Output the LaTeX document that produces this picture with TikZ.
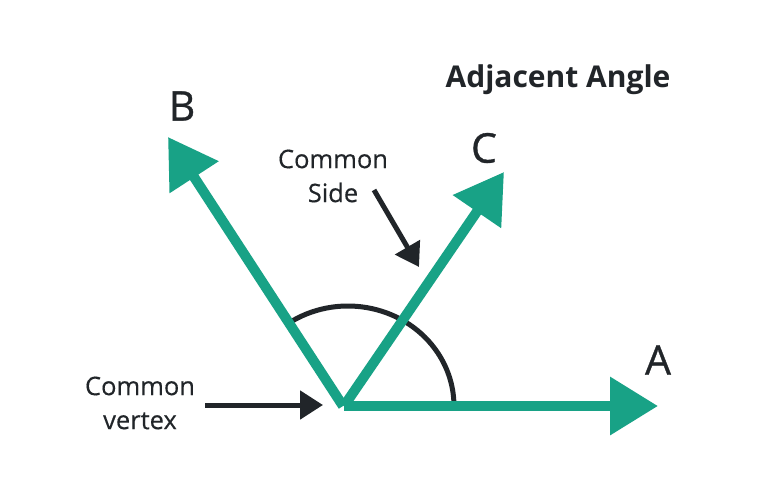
\documentclass[tikz,border=0pt]{standalone}
\usepackage{fontspec}
\setmainfont{Open Sans}
\newfontfamily\medfont{Open Sans}[FakeBold=0.8]
\newfontfamily\notefont{Open Sans}[FakeBold=0.3]
\usetikzlibrary{arrows.meta}
\definecolor{teal1}{RGB}{24,162,134}
\definecolor{ink}{RGB}{33,37,41}
\tikzset{
  ray/.style={draw=teal1, line width=10pt, -{Triangle[length=48pt,width=56pt]}},
  pointer/.style={draw=ink, line width=5pt, -{Triangle[length=23pt,width=28pt]}},
  anglearc/.style={draw=ink, line width=5pt},
  lbl/.style={text=ink, font=\medfont\fontsize{41}{44}\selectfont, inner sep=0pt},
  note/.style={text=ink, font=\notefont\fontsize{25.5}{34}\selectfont, align=center, inner sep=0pt},
  ttl/.style={text=ink, font=\bfseries\fontsize{30}{32}\selectfont, inner sep=0pt}
}
\begin{document}
\begin{tikzpicture}[x=1pt,y=-1pt]
\useasboundingbox[fill=white] (0,0) rectangle (757,491);
\coordinate (O) at (344,406);
\coordinate (A) at (658,406);
\coordinate (B) at (168,137);
\coordinate (C) at (504,172);
\coordinate (arcs) at (291.8,321.2);
\draw[anglearc] (arcs) arc[start angle=-122, end angle=0, x radius=106, y radius=100];
\draw[ray] (O) -- (A);
\draw[ray] ([xshift=-1pt]O) -- (B);
\draw[ray] (O) -- (C);
\node[lbl] (la) at (658,360) {A};
\node[lbl] (lb) at (182,106) {B};
\node[lbl] (lc) at (484,148) {C};
\node[ttl] (title) at (558,80) {Adjacent Angle};
\node[note] (side) at (333,176) {Common\\Side};
\node[note] (vert) at (140,403) {Common\\vertex};
\coordinate (s1) at (374,190);
\coordinate (s2) at (419,267);
\coordinate (v1) at (205,405);
\coordinate (v2) at (323,405);
\draw[pointer] (s1) -- (s2);
\draw[pointer] (v1) -- (v2);
\end{tikzpicture}
\end{document}
